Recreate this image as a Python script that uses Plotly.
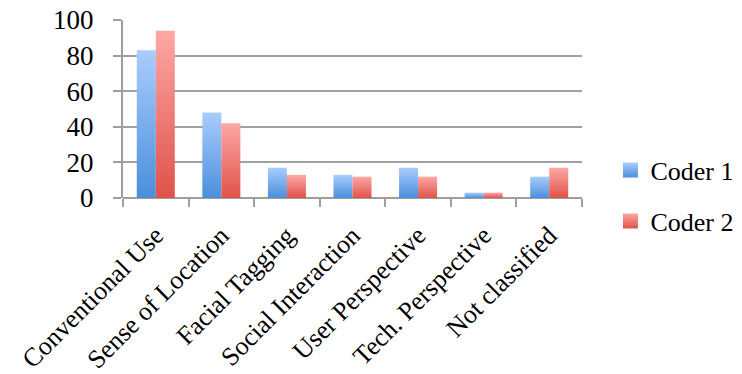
import plotly.graph_objects as go

categories = ["Conventional Use", "Sense of Location", "Facial Tagging",
              "Social Interaction", "User Perspective", "Tech. Perspective",
              "Not classified"]
coder1 = [83, 48, 17, 13, 17, 3, 12]
coder2 = [94, 42, 13, 12, 12, 3, 17]
y_ticks = [0, 20, 40, 60, 80, 100]

series = [
    ("Coder 1", coder1, "#4A8FDC", "#AACCFD"),
    ("Coder 2", coder2, "#DF5249", "#FDA8A6"),
]

bar_w = 0.29
font_family = "Liberation Serif, DejaVu Serif, serif"

fig = go.Figure()

# each bar is a filled rectangle with a vertical gradient (dark at base, light at top)
for j, (name, vals, dark, light) in enumerate(series):
    for i, v in enumerate(vals):
        x0 = i - bar_w + j * bar_w
        x1 = x0 + bar_w
        fig.add_trace(go.Scatter(
            x=[x0, x1, x1, x0, x0],
            y=[0, 0, v, v, 0],
            mode="none",
            fill="toself",
            fillgradient=dict(type="vertical", start=0, stop=v,
                              colorscale=[[0, dark], [1, light]]),
            showlegend=False,
            hoverinfo="skip",
        ))
    # legend entry for the series: a gradient square swatch
    fig.add_trace(go.Scatter(
        x=[None], y=[None], name=name, mode="markers",
        marker=dict(symbol="square", size=15, color=light,
                    gradient=dict(type="vertical", color=dark),
                    line=dict(width=0)),
        legendgroup=name,
    ))

n = len(categories)
boundaries = [k - 0.5 for k in range(n + 1)]

fig.update_layout(
    width=742, height=374,
    margin=dict(l=123, r=160, t=20, b=176, autoexpand=False),
    paper_bgcolor="white", plot_bgcolor="white",
    font=dict(family=font_family, size=26, color="black"),
    showlegend=True,
    legend=dict(
        x=1.062, y=0.013, xanchor="left", yanchor="middle",
        font=dict(size=26, family=font_family),
        tracegroupgap=14, itemwidth=30, itemsizing="trace",
        bgcolor="rgba(0,0,0,0)",
    ),
    xaxis=dict(
        range=[-0.5, n - 0.5],
        tickmode="array",
        tickvals=list(range(n)),
        ticktext=categories,
        tickangle=-45,
        ticks="", showgrid=False, zeroline=False,
        showline=False,
        automargin=False,
        ticklabelstandoff=16,
        ticklabelshift=0,
        minor=dict(tickmode="array", tickvals=boundaries, ticks="outside",
                   ticklen=8, tickwidth=2, tickcolor="#9E9E9E", showgrid=False),
        tickfont=dict(size=26),
    ),
    yaxis=dict(
        range=[0, 100],
        tickmode="array", tickvals=y_ticks,
        ticks="outside", ticklen=8, tickwidth=2, tickcolor="#9E9E9E",
        showgrid=True, gridcolor="#A0A0A0", gridwidth=2,
        showline=True, linecolor="#9E9E9E", linewidth=2,
        zeroline=True, zerolinecolor="#9E9E9E", zerolinewidth=2,
        automargin=False,
        ticklabelstandoff=14,
        tickfont=dict(size=27),
    ),
)

fig.write_html("out.html")
